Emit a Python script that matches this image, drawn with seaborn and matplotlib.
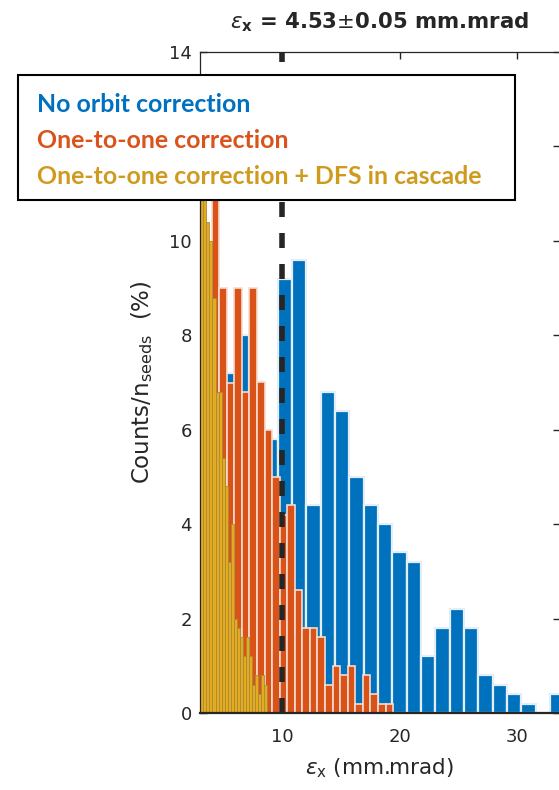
import matplotlib.pyplot as plt
import matplotlib.patches as mpatches
import numpy as np
import pandas as pd
import seaborn as sns

# histogram heights in % of seeds (500 seeds -> steps of 0.2 %)
no_corr = [1.0, 4.0, 7.2, 8.0, 6.6, 5.8, 9.2, 9.6, 4.4, 6.8, 6.4, 5.0, 4.4, 4.0,
           3.4, 3.2, 1.2, 1.8, 2.2, 1.8, 0.8, 0.6, 0.4, 0.2, 0.0, 0.4]
one_to_one = [8.4, 11.2, 9.0, 7.0, 9.0, 6.8, 9.0, 7.0, 6.0, 5.0, 4.2, 4.4, 2.6,
              1.8, 1.8, 1.6, 0.6, 1.0, 0.8, 1.0, 0.2, 0.8, 0.4, 0.2, 0.2]
dfs_cascade = [11.4, 11.0, 10.4, 10.0, 8.8, 6.8, 6.8, 5.4, 4.8, 3.2, 4.0, 2.0, 1.8,
               1.6, 1.2, 1.6, 1.2, 0.6, 0.8, 0.4, 0.8, 0.6]

# first bin edge and bin width (mm.mrad)
no_corr_bins = (2.28, 1.22)
one_to_one_bins = (3.34, 0.644)
dfs_bins = (3.02, 0.26)

labels = ["No orbit correction",
          "One-to-one correction",
          "One-to-one correction + DFS in cascade"]
bar_colors = ["#0072BD", "#D95319", "#E5AB1F"]
edge_colors = ["#e4eef7", "#f6dbcf", "#a88a3a"]
edge_widths = [1.6, 1.2, 0.6]
text_colors = ["#0070C0", "#D9531A", "#CF9B1F"]
y_ticks = [0, 2, 4, 6, 8, 10, 12, 14]
y_ticklabels = ["0", "2", "4", "6", "8", "10", "", "14"]  # 12 sits under the text box
x_mark = 10

sns.set_style("ticks")
plt.rcParams["font.family"] = ["DejaVu Sans"]
plt.rcParams["mathtext.fontset"] = "dejavusans"

fig = plt.figure(figsize=(5.59, 7.9), dpi=100)
ax = fig.add_axes([200 / 559, 77 / 790, 359.5 / 559, 661 / 790])

series = [(no_corr, no_corr_bins), (one_to_one, one_to_one_bins), (dfs_cascade, dfs_bins)]
for i, (vals, (start, width)) in enumerate(series):
    edges = start + width * np.arange(len(vals) + 1)
    df = pd.DataFrame({"eps": edges[:-1] + width / 2, "pct": vals})
    sns.histplot(data=df, x="eps", weights="pct", bins=list(edges), ax=ax,
                 color=bar_colors[i], alpha=1, edgecolor=edge_colors[i],
                 linewidth=edge_widths[i])

ax.axvline(x_mark, color="#262626", lw=4, ls=(0, (2.7, 2.88)), zorder=5)

ax.set_xlim(3.0, 33.6)
ax.set_ylim(0, 14)
ax.set_xticks([10, 20, 30])
ax.set_yticks(y_ticks)
ax.set_yticklabels(y_ticklabels)
ax.tick_params(direction="in", length=5, width=1, top=True, right=True,
               colors="#262626", labelsize=13)
ax.tick_params(axis="x", pad=11)
ax.tick_params(axis="y", pad=6)
for s in ax.spines.values():
    s.set_color("#262626")
    s.set_linewidth(0.9)
    s.set_zorder(6)
ax.spines["bottom"].set_linewidth(1.6)

ax.set_xlabel(r"$\epsilon_{\mathrm{x}}$ (mm.mrad)", fontsize=15.5, color="#262626")
ax.xaxis.set_label_coords(0.5, -0.066)
ax.set_ylabel(r"Counts/n$_{\mathrm{seeds}}$  (%)", fontsize=16.5, color="#262626")
ax.yaxis.set_label_coords(-0.125, 0.5)
ax.set_title(r"$\epsilon_{\mathbf{x}}$ = 4.53$\pm$0.05 mm.mrad", fontsize=15.3,
             fontweight="bold", pad=17)

# text box with coloured labels
fig.add_artist(mpatches.Rectangle((18 / 559, 1 - 200 / 790), 497 / 559, 125 / 790,
                                  transform=fig.transFigure, facecolor="white",
                                  edgecolor="black", linewidth=1.5, zorder=5))
for i, lab in enumerate(labels):
    fig.text(37 / 559, 1 - (111.5 + 36 * i) / 790, lab, color=text_colors[i],
             fontsize=17.9, fontweight="bold", family=["Lato", "DejaVu Sans"],
             va="baseline", ha="left", zorder=6)

fig.savefig("out.png", dpi=100)
